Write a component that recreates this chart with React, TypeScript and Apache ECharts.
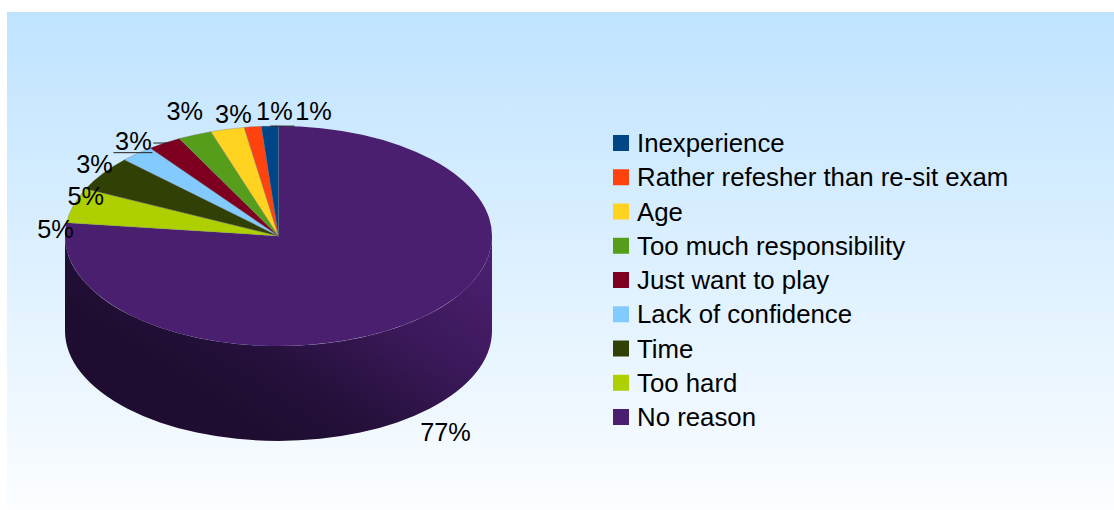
import React, { useEffect, useRef } from "react";
import * as echarts from "echarts";

const categories = [
  "Inexperience",
  "Rather refesher than re-sit exam",
  "Age",
  "Too much responsibility",
  "Just want to play",
  "Lack of confidence",
  "Time",
  "Too hard",
  "No reason",
];
const responses = [1, 1, 2, 2, 2, 2, 4, 4, 60];
const colors = ["#004586", "#ff420e", "#ffd320", "#579d1c", "#7e0021", "#83caff", "#314004", "#aecf00", "#4b1f6f"];

const FONT = '"Liberation Sans", Arial, sans-serif';
const FONT_SIZE = 25.3;
const LEGEND_FONT_SIZE = 25.8;
const CX = 278.5;
const CY = 236;
const RX = 213.5;
const RY = 110;
const DEPTH = 95;

// label offset from the slice's rim point
const labelNudge: number[][] = [
  [43.6, -15], [21.6, -15.8], [6, -15], [-10, -24], [-31, -2], [-42.5, 10], [-17, 22], [-18, 24], [25.4, 113.6],
];
// leader lines relative to the slice's rim point
const leaders: Record<number, number[]> = {
  0: [0.6, 0, 24.6, 0],
  4: [-11, 0, 3, 0],
  5: [-23.5, -1, 15.5, -1],
};

const total = responses.reduce((a, b) => a + b, 0);

function rim(turn: number) {
  // turn: fraction of a circle, running counter-clockwise from 12 o'clock
  const a = turn * Math.PI * 2;
  return [CX - RX * Math.sin(a), CY - RY * Math.cos(a)];
}

function buildSeries(index: number) {
  const before = responses.slice(0, index).reduce((a, b) => a + b, 0);
  const start = before / total;
  const end = (before + responses[index]) / total;
  const mid = (start + end) / 2;
  const [x1, y1] = rim(start);
  const [x2, y2] = rim(end);
  const large = end - start > 0.5 ? 1 : 0;
  const percent = Math.round((responses[index] / total) * 100);
  const isFront = end - start > 0.5;
  return {
    type: "custom",
    name: categories[index],
    coordinateSystem: "none",
    itemStyle: { color: colors[index] },
    data: [[responses[index]]],
    silent: true,
    renderItem: () => {
      const children: any[] = [];
      if (isFront) {
        children.push({
          type: "path",
          shape: {
            pathData: `M ${CX - RX} ${CY} L ${CX - RX} ${CY + DEPTH} A ${RX} ${RY} 0 0 0 ${CX + RX} ${CY + DEPTH} L ${CX + RX} ${CY} A ${RX} ${RY} 0 0 1 ${CX - RX} ${CY} Z`,
          },
          style: {
            fill: new echarts.graphic.LinearGradient(1, 0.15, 0.25, 0.7, [
              { offset: 0, color: "#4b1f6f" },
              { offset: 0.4, color: "#3a1858" },
              { offset: 0.75, color: "#24103a" },
              { offset: 1, color: "#1e0d30" },
            ]),
          },
        });
      }
      children.push({
        type: "path",
        shape: { pathData: `M ${CX} ${CY} L ${x1} ${y1} A ${RX} ${RY} 0 ${large} 0 ${x2} ${y2} Z` },
        style: isFront
          ? { fill: colors[index] }
          : { fill: colors[index], stroke: "rgba(110,110,110,0.55)", lineWidth: 0.6 },
      });
      const [mx, my] = rim(mid);
      const leader = leaders[index];
      if (leader) {
        children.push({
          type: "line",
          shape: { x1: mx + leader[0], y1: my + leader[1], x2: mx + leader[2], y2: my + leader[3] },
          style: { stroke: "#222222", lineWidth: 1 },
        });
      }
      children.push({
        type: "text",
        x: mx + labelNudge[index][0],
        y: my + labelNudge[index][1],
        style: {
          text: `${percent}%`,
          fill: "#000000",
          font: `${FONT_SIZE}px ${FONT}`,
          align: "center",
          verticalAlign: "middle",
        },
      });
      return { type: "group", children };
    },
  };
}

export default function App() {
  const ref = useRef<HTMLDivElement>(null);
  useEffect(() => {
    document.body.style.margin = "0";
    const chart = echarts.init(ref.current!, null, { renderer: "svg" });
    chart.setOption({
      animation: false,
      backgroundColor: "#ffffff",
      graphic: [
        {
          type: "rect",
          z: -10,
          silent: true,
          shape: { x: 7, y: 12, width: 1107, height: 498 },
          style: {
            fill: new echarts.graphic.LinearGradient(0, 0, 0, 1, [
              { offset: 0, color: "#bfe3ff" },
              { offset: 1, color: "#fbfdff" },
            ]),
          },
        },
      ],
      legend: {
        orient: "vertical",
        left: 608,
        top: 125,
        height: 340,
        itemWidth: 16,
        itemHeight: 16,
        itemGap: 8.25,
        icon: "rect",
        selectedMode: false,
        data: categories,
        textStyle: { fontFamily: FONT, fontSize: LEGEND_FONT_SIZE, color: "#000000", padding: [0, 0, 0, 3] },
      },
      series: categories.map((_, i) => buildSeries(i)).reverse(),
    });
    return () => chart.dispose();
  }, []);
  return <div ref={ref} style={{ width: 1114, height: 510 }} />;
}
